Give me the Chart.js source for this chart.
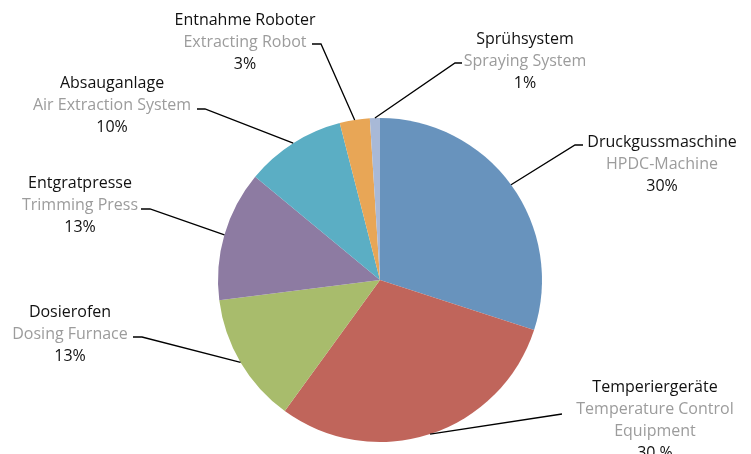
<!DOCTYPE html>
<html>
<head>
<meta charset="utf-8">
<script src="https://cdn.jsdelivr.net/npm/chart.js@4/dist/chart.umd.min.js"></script>
<style>
  html, body { margin: 0; padding: 0; background: #fff; }
  #wrap { position: relative; width: 751px; height: 454px; }
</style>
</head>
<body>
<div id="wrap"><canvas id="pie"></canvas></div>
<script>
// chart data
const labelsDe = ['Druckgussmaschine', 'Temperiergeräte', 'Dosierofen', 'Entgratpresse', 'Absauganlage', 'Entnahme Roboter', 'Sprühsystem'];
const labelsEn = [['HPDC-Machine'], ['Temperature Control', 'Equipment'], ['Dosing Furnace'], ['Trimming Press'], ['Air Extraction System'], ['Extracting Robot'], ['Spraying System']];
const shares = [30, 30, 13, 13, 10, 3, 1];
const shareText = ['30%', '30 %', '13%', '13%', '10%', '3%', '1%'];
const sliceColors = ['#6893BD', '#C0655B', '#A8BC6C', '#8D7BA2', '#5BAEC4', '#E8A656', '#A8B9D7'];

// where each label block sits (text centre x, first line y) and where its leader line bends
const labelLayout = [
  { x: 662, y: 142, elbow: [575, 145], stub: [583, 145] },
  { x: 655, y: 387, elbow: [562, 414], stub: [562, 414] },
  { x: 70,  y: 312, elbow: [142, 337], stub: [133, 337] },
  { x: 80,  y: 183, elbow: [150, 209], stub: [141, 209] },
  { x: 112, y: 83,  elbow: [205, 109], stub: [197, 109] },
  { x: 245, y: 20,  elbow: [321, 44],  stub: [312, 44] },
  { x: 525, y: 39,  elbow: [455, 63],  stub: [462, 63] }
];

const FONT = '"Open Sans", Lato, sans-serif';
const LINE_H = 22;

const outsideLabels = {
  id: 'outsideLabels',
  afterDraw(chart) {
    const ctx = chart.ctx;
    const arcs = chart.getDatasetMeta(0).data;
    ctx.save();
    arcs.forEach((arc, i) => {
      const p = arc.getProps(['x', 'y', 'startAngle', 'endAngle', 'outerRadius'], true);
      const mid = (p.startAngle + p.endAngle) / 2;
      const ax = p.x + Math.cos(mid) * p.outerRadius;
      const ay = p.y + Math.sin(mid) * p.outerRadius;
      const lay = labelLayout[i];

      ctx.strokeStyle = '#000';
      ctx.lineWidth = 1.3;
      ctx.beginPath();
      ctx.moveTo(ax, ay);
      ctx.lineTo(lay.elbow[0], lay.elbow[1]);
      ctx.lineTo(lay.stub[0], lay.stub[1]);
      ctx.stroke();

      ctx.textAlign = 'center';
      ctx.textBaseline = 'middle';
      ctx.font = '16px ' + FONT;
      let y = lay.y;
      ctx.fillStyle = '#111';
      ctx.fillText(labelsDe[i], lay.x, y);
      ctx.fillStyle = '#9c9c9c';
      labelsEn[i].forEach(t => {
        y += LINE_H;
        ctx.fillText(t, lay.x, y);
      });
      y += LINE_H;
      ctx.fillStyle = '#111';
      ctx.fillText(shareText[i], lay.x, y);
    });
    ctx.restore();
  }
};

new Chart(document.getElementById('pie'), {
  type: 'pie',
  data: {
    labels: labelsDe,
    datasets: [{
      data: shares,
      backgroundColor: sliceColors,
      borderWidth: 0
    }]
  },
  options: {
    responsive: true,
    maintainAspectRatio: false,
    animation: false,
    layout: { padding: { left: 218, right: 209, top: 118, bottom: 12 } },
    plugins: {
      legend: { display: false },
      tooltip: { enabled: false }
    }
  },
  plugins: [outsideLabels]
});
</script>
</body>
</html>
